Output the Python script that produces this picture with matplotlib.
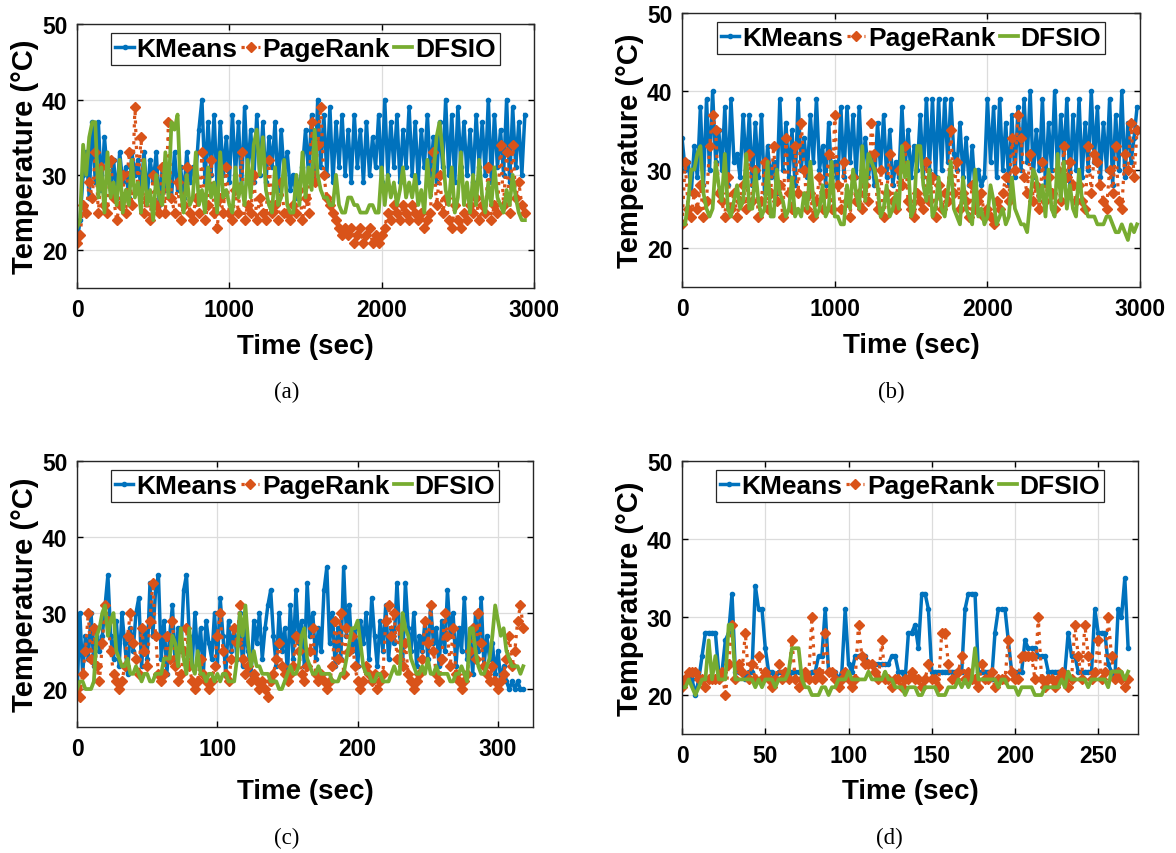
import matplotlib
matplotlib.use("Agg")
import matplotlib.pyplot as plt
import numpy as np

# colours of the three workloads
BLUE = "#0072BD"
ORANGE = "#D95319"
GREEN = "#77AC30"

series_names = ["KMeans", "PageRank", "DFSIO"]

# ---------------- (a) ----------------
time_a = np.arange(0, 2960, 20)
kmeans_a = [21, 24, 30, 33, 27, 37, 29, 37, 28, 35,
            30, 28, 32, 27, 33, 29, 31, 27, 33, 30,
            32, 28, 33, 27, 32, 29, 33, 26, 31, 28,
            30, 27, 33, 28, 31, 27, 33, 29, 31, 30,
            36, 40, 29, 37, 30, 38, 28, 37, 30, 35,
            29, 38, 30, 37, 28, 39, 30, 36, 29, 38,
            30, 37, 29, 35, 31, 37, 28, 36, 30, 33,
            28, 30, 27, 29, 31, 36, 30, 38, 29, 40,
            31, 38, 30, 39, 29, 37, 31, 38, 30, 36,
            29, 38, 31, 36, 29, 37, 30, 35, 31, 38,
            29, 40, 30, 37, 31, 38, 29, 36, 31, 39,
            30, 37, 29, 36, 31, 38, 30, 35, 29, 37,
            31, 40, 30, 38, 29, 39, 31, 37, 30, 36,
            29, 38, 31, 37, 30, 40, 29, 38, 31, 36,
            30, 40, 29, 39, 31, 37, 30, 38]
pagerank_a = [21, 22, 26, 25, 29, 27, 33, 25, 31, 26,
              25, 32, 27, 24, 26, 30, 25, 33, 26, 39,
              28, 35, 25, 27, 24, 30, 26, 25, 31, 25,
              37, 27, 25, 29, 24, 26, 31, 25, 24, 27,
              25, 33, 24, 26, 32, 25, 23, 27, 25, 31,
              25, 24, 28, 25, 33, 24, 26, 25, 30, 24,
              27, 25, 24, 32, 25, 26, 24, 29, 25, 25,
              24, 26, 25, 28, 24, 27, 25, 37, 29, 34,
              39, 30, 27, 26, 25, 24, 23, 22, 23, 22,
              23, 21, 22, 23, 21, 22, 23, 21, 22, 21,
              22, 23, 25, 24, 26, 25, 24, 26, 25, 24,
              26, 25, 24, 25, 23, 24, 25, 33, 26, 30,
              25, 27, 24, 23, 26, 24, 23, 25, 24, 26,
              25, 27, 24, 26, 25, 31, 24, 26, 25, 34,
              26, 33, 25, 34, 27, 29, 26, 25]
dfsio_a = [23, 24, 34, 30, 35, 37, 37, 27, 31, 25,
           33, 27, 29, 26, 32, 25, 28, 26, 32, 27,
           29, 25, 32, 26, 28, 24, 30, 27, 26, 33,
           27, 37, 36, 38, 28, 25, 30, 26, 27, 33,
           26, 28, 25, 31, 27, 29, 25, 33, 27, 28,
           26, 25, 31, 27, 29, 26, 32, 27, 34, 36,
           30, 35, 28, 26, 25, 31, 26, 27, 32, 26,
           25, 25, 30, 26, 33, 27, 31, 28, 36, 30,
           28, 27, 27, 26, 26, 30, 26, 25, 25, 27,
           27, 26, 26, 25, 25, 25, 26, 26, 25, 25,
           31, 26, 30, 27, 29, 26, 28, 31, 27, 29,
           27, 30, 26, 28, 25, 32, 27, 30, 35, 37,
           33, 28, 26, 31, 25, 27, 33, 26, 29, 25,
           30, 26, 32, 27, 25, 29, 26, 31, 27, 26,
           25, 28, 26, 30, 27, 25, 24, 24]

# ---------------- (b) ----------------
time_b = np.arange(0, 3000, 20)
kmeans_b = [34, 30, 31, 27, 33, 29, 38, 28, 39, 30,
            40, 31, 35, 30, 38, 28, 39, 31, 32, 29,
            37, 30, 37, 28, 36, 29, 37, 27, 33, 29,
            31, 27, 39, 30, 36, 29, 35, 28, 39, 30,
            34, 29, 37, 31, 39, 30, 33, 28, 36, 29,
            31, 28, 38, 29, 38, 31, 37, 29, 38, 30,
            34, 29, 32, 28, 36, 30, 37, 29, 35, 28,
            31, 29, 38, 30, 35, 29, 33, 30, 37, 29,
            39, 30, 39, 29, 39, 30, 39, 31, 39, 32,
            30, 36, 29, 34, 28, 33, 27, 30, 28, 29,
            39, 31, 38, 29, 39, 30, 36, 28, 37, 29,
            38, 30, 39, 31, 40, 29, 35, 30, 39, 28,
            36, 30, 40, 29, 37, 31, 39, 28, 37, 30,
            39, 29, 36, 30, 40, 31, 38, 29, 36, 30,
            39, 28, 37, 30, 40, 29, 36, 31, 34, 38]
pagerank_b = [23, 31, 25, 24, 27, 25, 28, 24, 26, 33,
              37, 35, 27, 26, 24, 29, 25, 27, 24, 26,
              28, 25, 32, 26, 30, 24, 26, 31, 25, 27,
              33, 26, 28, 24, 34, 27, 25, 33, 27, 36,
              30, 25, 27, 24, 26, 29, 25, 27, 32, 25,
              37, 28, 25, 31, 26, 24, 29, 26, 27, 25,
              28, 26, 36, 32, 25, 30, 24, 27, 32, 26,
              25, 30, 28, 33, 26, 25, 24, 27, 26, 25,
              31, 26, 29, 24, 28, 25, 27, 26, 35, 27,
              31, 25, 27, 26, 24, 28, 25, 26, 27, 24,
              25, 24, 23, 26, 25, 27, 29, 26, 34, 30,
              37, 34, 29, 27, 32, 26, 28, 25, 31, 26,
              29, 27, 25, 30, 26, 33, 29, 31, 28, 26,
              28, 26, 25, 33, 27, 32, 31, 28, 26, 25,
              30, 27, 33, 26, 25, 32, 30, 36, 29, 35]
dfsio_b = [23, 23, 26, 30, 30, 32, 33, 27, 25, 24,
           25, 31, 28, 26, 32, 25, 24, 26, 28, 25,
           26, 32, 25, 25, 30, 26, 24, 25, 31, 24,
           24, 30, 27, 26, 24, 25, 29, 24, 25, 24,
           27, 25, 31, 26, 24, 25, 28, 24, 25, 31,
           24, 24, 23, 23, 28, 25, 30, 27, 25, 33,
           26, 32, 31, 30, 28, 24, 25, 28, 24, 25,
           27, 25, 33, 29, 31, 24, 25, 33, 33, 28,
           26, 30, 24, 25, 29, 25, 24, 27, 31, 25,
           24, 23, 29, 25, 24, 23, 30, 24, 25, 23,
           24, 28, 26, 23, 24, 25, 23, 24, 29, 25,
           24, 23, 23, 22, 26, 30, 29, 26, 28, 24,
           30, 25, 24, 32, 26, 31, 25, 28, 25, 24,
           30, 26, 25, 24, 24, 24, 23, 23, 23, 24,
           24, 23, 22, 22, 23, 22, 21, 23, 22, 23]

# ---------------- (c) ----------------
time_c = np.arange(0, 320, 2)
kmeans_c = [19, 30, 22, 27, 24, 30, 23, 28, 25, 27,
            31, 35, 27, 24, 29, 23, 30, 26, 22, 28,
            25, 30, 32, 23, 28, 24, 34, 27, 33, 35,
            24, 29, 22, 27, 31, 23, 28, 25, 33, 35,
            27, 23, 30, 24, 28, 22, 29, 26, 24, 30,
            23, 32, 27, 22, 29, 25, 28, 24, 30, 23,
            28, 25, 22, 29, 26, 30, 24, 28, 31, 33,
            27, 23, 30, 25, 28, 22, 31, 24, 33, 26,
            29, 23, 34, 27, 30, 24, 28, 25, 33, 36,
            26, 30, 23, 28, 24, 36, 27, 31, 25, 28,
            23, 29, 26, 30, 24, 32, 27, 23, 29, 25,
            31, 24, 28, 26, 34, 27, 23, 34, 28, 25,
            30, 23, 27, 25, 29, 24, 31, 26, 28, 23,
            29, 25, 33, 27, 30, 23, 28, 25, 32, 24,
            27, 22, 30, 25, 32, 23, 27, 24, 26, 22,
            25, 21, 23, 21, 20, 21, 20, 21, 20, 20]
pagerank_c = [20, 19, 22, 25, 30, 24, 28, 23, 21, 26,
              31, 29, 25, 22, 21, 20, 21, 23, 27, 30,
              26, 24, 22, 28, 25, 23, 29, 34, 27, 22,
              21, 22, 27, 24, 29, 23, 21, 22, 25, 28,
              23, 21, 20, 21, 24, 22, 21, 20, 21, 23,
              27, 30, 25, 22, 21, 24, 28, 26, 31, 24,
              22, 23, 21, 22, 21, 20, 21, 20, 19, 21,
              22, 24, 26, 23, 22, 21, 22, 23, 27, 25,
              22, 21, 23, 25, 28, 22, 21, 22, 21, 20,
              21, 23, 29, 24, 30, 22, 28, 25, 27, 23,
              21, 20, 21, 23, 22, 21, 22, 20, 21, 22,
              29, 31, 27, 30, 24, 28, 23, 26, 22, 21,
              20, 21, 22, 24, 29, 26, 31, 25, 22, 21,
              24, 30, 27, 23, 28, 22, 21, 20, 21, 22,
              25, 28, 24, 30, 26, 23, 22, 21, 23, 21,
              20, 21, 22, 24, 27, 23, 25, 29, 31, 28]
dfsio_c = [20, 21, 21, 20, 20, 20, 21, 27, 28, 30,
           31, 27, 29, 30, 25, 24, 23, 23, 24, 22,
           22, 23, 22, 21, 22, 22, 21, 21, 22, 22,
           22, 24, 24, 24, 27, 26, 23, 28, 24, 22,
           28, 23, 22, 25, 22, 22, 21, 22, 22, 21,
           22, 21, 22, 22, 21, 21, 21, 24, 30, 27,
           31, 26, 23, 25, 23, 23, 22, 22, 22, 21,
           21, 21, 20, 20, 21, 22, 23, 22, 22, 23,
           27, 28, 24, 23, 22, 22, 23, 22, 22, 22,
           22, 21, 21, 21, 22, 22, 24, 26, 28, 28,
           29, 26, 23, 22, 22, 21, 21, 22, 22, 21,
           21, 21, 22, 23, 22, 22, 30, 28, 27, 24,
           23, 22, 22, 23, 22, 24, 22, 22, 23, 22,
           22, 22, 22, 21, 21, 22, 22, 23, 22, 21,
           28, 28, 25, 23, 22, 22, 23, 24, 27, 31,
           29, 27, 28, 25, 24, 23, 23, 23, 22, 23]

# ---------------- (d) ----------------
time_d = np.arange(0, 270, 2)
kmeans_d = [21, 22, 22, 22, 20, 22, 25, 28, 28, 28,
            28, 23, 23, 27, 28, 33, 23, 23, 23, 22,
            23, 23, 34, 31, 31, 26, 23, 23, 22, 23,
            23, 23, 22, 23, 23, 23, 23, 23, 22, 23,
            23, 25, 25, 31, 23, 23, 23, 22, 23, 31,
            24, 23, 25, 25, 25, 25, 24, 24, 24, 24,
            24, 24, 24, 25, 25, 23, 23, 22, 28, 28,
            29, 26, 33, 33, 31, 23, 23, 23, 23, 23,
            23, 23, 23, 23, 23, 31, 33, 33, 33, 23,
            23, 23, 23, 22, 28, 31, 31, 31, 27, 23,
            23, 23, 23, 27, 26, 26, 26, 25, 25, 25,
            23, 23, 23, 23, 23, 23, 28, 25, 25, 23,
            23, 23, 23, 23, 31, 28, 28, 28, 24, 23,
            22, 31, 30, 35, 26]
pagerank_d = [21, 22, 23, 23, 23, 22, 22, 21, 22, 22,
              22, 22, 23, 20, 24, 29, 22, 24, 23, 28,
              22, 24, 22, 25, 22, 23, 22, 21, 22, 24,
              22, 23, 22, 27, 22, 21, 22, 23, 22, 30,
              22, 23, 22, 28, 23, 23, 22, 21, 22, 23,
              22, 21, 22, 29, 25, 24, 24, 24, 23, 22,
              27, 22, 22, 21, 22, 22, 21, 22, 22, 23,
              22, 22, 21, 22, 24, 22, 22, 21, 28, 28,
              24, 22, 22, 23, 25, 22, 23, 22, 22, 21,
              24, 22, 22, 23, 21, 22, 22, 22, 27, 23,
              22, 22, 25, 25, 25, 25, 22, 30, 22, 21,
              22, 22, 21, 22, 23, 22, 21, 22, 29, 25,
              22, 29, 25, 22, 23, 27, 22, 23, 30, 25,
              22, 23, 22, 21, 22]
dfsio_d = [21, 21, 22, 21, 20, 21, 22, 22, 27, 22,
           25, 22, 22, 22, 29, 29, 22, 22, 22, 22,
           22, 22, 21, 22, 21, 22, 22, 22, 21, 22,
           22, 22, 23, 26, 26, 26, 22, 21, 21, 20,
           20, 20, 21, 21, 20, 21, 21, 22, 22, 22,
           23, 22, 22, 22, 22, 22, 23, 22, 22, 22,
           22, 23, 22, 22, 21, 21, 21, 20, 21, 21,
           21, 20, 20, 21, 21, 21, 21, 20, 20, 20,
           21, 21, 21, 22, 21, 22, 21, 22, 26, 22,
           22, 22, 22, 22, 22, 21, 22, 22, 21, 21,
           21, 20, 21, 21, 21, 21, 20, 20, 20, 21,
           21, 21, 21, 21, 22, 21, 23, 22, 22, 22,
           22, 22, 21, 22, 22, 22, 22, 22, 21, 23,
           23, 23, 23, 22, 23]

x_ticks_a = [0, 1000, 2000, 3000]
x_ticks_c = [0, 100, 200, 300]
x_ticks_d = [0, 50, 100, 150, 200, 250]
y_ticks = [20, 30, 40, 50]
captions = ["(a)", "(b)", "(c)", "(d)"]

plt.rcParams['font.family'] = ['Liberation Sans', 'DejaVu Sans']
plt.rcParams['font.weight'] = 'bold'
plt.rcParams['axes.labelweight'] = 'bold'


def draw_panel(ax, t, km, pr, df, xlim, xticks, xpad):
    ax.plot(t, km, color=BLUE, lw=2.5, marker='.', ms=6, label=series_names[0])
    ax.plot(t, pr, color=ORANGE, lw=2.3, ls=':', marker='D', ms=5, label=series_names[1])
    ax.plot(t, df, color=GREEN, lw=2.7, label=series_names[2])
    ax.set_xlim(*xlim)
    ax.set_ylim(15, 50)
    ax.set_xticks(xticks)
    ax.set_yticks(y_ticks)
    ax.grid(True, color='#dcdcdc', lw=0.9)
    ax.set_axisbelow(True)
    ax.tick_params(direction='in', top=True, right=True, length=4, width=1,
                   labelsize=16.5, pad=7)
    for lab in ax.get_xticklabels() + ax.get_yticklabels():
        lab.set_fontweight('bold')
    for sp in ax.spines.values():
        sp.set_linewidth(1.0)
        sp.set_color('#262626')
    ax.set_xlabel("Time (sec)", fontsize=20, fontweight='bold', labelpad=xpad)
    ax.set_ylabel("Temperature (\u00b0C)", fontsize=21, fontweight='bold', labelpad=2)
    leg = ax.legend(loc='upper center', ncol=3, handlelength=0.7,
                    handletextpad=0.1, columnspacing=0.15, borderpad=0.15,
                    borderaxespad=0.35, fancybox=False, framealpha=1,
                    edgecolor='#262626', prop={'weight': 'bold', 'size': 19})
    leg.get_frame().set_linewidth(0.9)


fig = plt.figure(figsize=(11.76, 8.54), dpi=100)
ax_a = fig.add_axes([0.0655, 0.6616, 0.3886, 0.3090])
ax_b = fig.add_axes([0.5800, 0.6628, 0.3895, 0.3208])
ax_c = fig.add_axes([0.0655, 0.1475, 0.3878, 0.3115])
ax_d = fig.add_axes([0.5800, 0.1393, 0.3878, 0.3197])

draw_panel(ax_a, time_a, kmeans_a, pagerank_a, dfsio_a, (0, 3000), x_ticks_a, 9)
draw_panel(ax_b, time_b, kmeans_b, pagerank_b, dfsio_b, (0, 3000), x_ticks_a, 9)
draw_panel(ax_c, time_c, kmeans_c, pagerank_c, dfsio_c, (0, 325), x_ticks_c, 13)
draw_panel(ax_d, time_d, kmeans_d, pagerank_d, dfsio_d, (0, 274), x_ticks_d, 8)

cap_pos = [(287, 392), (891, 392), (287, 838), (889, 838)]
for cap, (px, py) in zip(captions, cap_pos):
    fig.text(px / 1176, 1 - py / 854, cap, ha='center', va='center',
             fontsize=16.5, fontweight='normal', family=['Liberation Serif', 'DejaVu Serif'])

fig.savefig("out.png", dpi=100)
